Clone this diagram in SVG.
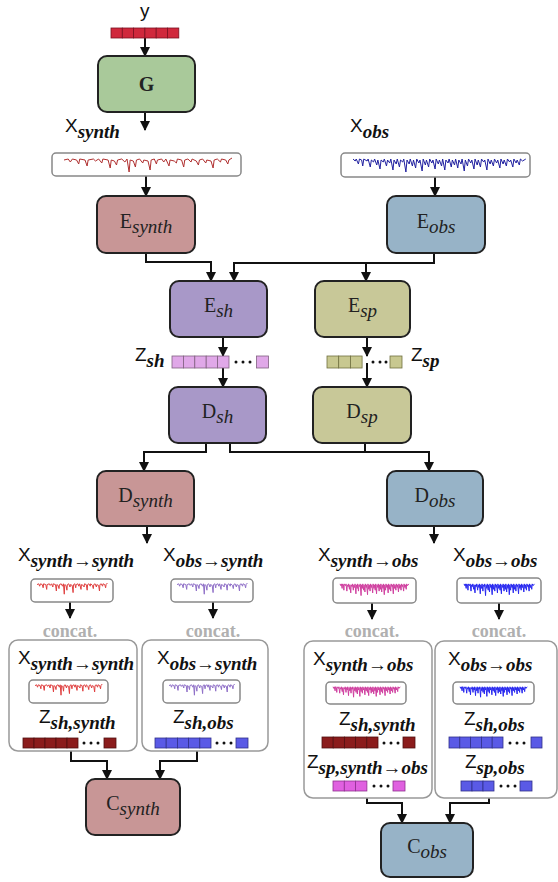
<svg xmlns="http://www.w3.org/2000/svg" xmlns:xlink="http://www.w3.org/1999/xlink" width="558" height="882" viewBox="0 0 558 882">
<style>
.box{stroke:#222;stroke-width:2}
.syn{fill:#c89696}
.obs{fill:#97b3c7}
.sh{fill:#a898c8}
.sp{fill:#c8c898}
.gen{fill:#a9c99a}
.blabel{font-family:"Liberation Serif",serif;font-size:20px;fill:#222}
.bsub{font-style:italic;font-size:19px}
.lab{font-family:"Liberation Sans",sans-serif;font-size:19px;fill:#111}
.lsub{font-family:"Liberation Serif",serif;font-style:italic;font-weight:bold;font-size:19px}
.spec{fill:#fff;stroke:#888;stroke-width:1.5}
.cont{fill:#fff;stroke:#999;stroke-width:1.5}
.concat{font-family:"Liberation Serif",serif;font-weight:bold;font-size:18px;fill:#b0b0b0;text-anchor:middle}
.conn{fill:none;stroke:#111;stroke-width:2}
.cR{fill:#d0283c;stroke:#7a1020;stroke-width:0.8}
.cP{fill:#e0a8e8;stroke:#806080;stroke-width:0.8}
.cO{fill:#c8c890;stroke:#707040;stroke-width:0.8}
.cD{fill:#8b1c1c;stroke:#501010;stroke-width:0.8}
.cB{fill:#5a5ae6;stroke:#30308a;stroke-width:0.8}
.cM{fill:#e060e0;stroke:#903090;stroke-width:0.8}
.dot{fill:#111}
</style>
<defs>
<marker id="ah" markerUnits="userSpaceOnUse" markerWidth="10" markerHeight="10" refX="9" refY="5" orient="auto">
<path d="M0,0 L10,5 L0,10 z" fill="#111"/>
</marker>
<path id="s1" fill="none" stroke-width="1" vector-effect="non-scaling-stroke" d="M0 2 L4 1 L6 4 L8 1 L12 2 L14 6 L15 1 L20 2 L22 8 L23 2 L28 1 L30 3 L33 1 L36 5 L37 1 L42 2 L44 10 L45 2 L48 3 L50 7 L51 2 L55 1 L58 4 L60 1 L62 14 L63 2 L66 3 L68 9 L69 2 L72 1 L75 5 L76 2 L80 3 L82 12 L83 2 L86 1 L88 6 L89 2 L93 1 L95 4 L97 1 L100 8 L101 2 L105 3 L107 5 L108 1 L112 2 L114 9 L115 2 L118 1 L121 4 L122 1 L126 3 L128 7 L129 2 L132 1 L135 5 L136 2 L140 3 L142 10 L143 2 L146 1 L149 4 L150 1 L154 2 L156 6 L157 2 L160 0"/>
<path id="s2" fill="none" stroke-width="1" vector-effect="non-scaling-stroke" d="M0 1 L2 3 L3 1 L5 6 L6 1 L8 2 L9 8 L10 1 L13 3 L14 1 L16 9 L17 2 L19 4 L20 1 L22 7 L23 2 L25 11 L26 2 L28 4 L29 1 L31 8 L32 2 L34 5 L35 1 L37 12 L38 2 L40 6 L41 1 L43 9 L44 2 L46 4 L47 1 L49 14 L50 2 L52 6 L53 1 L55 8 L56 2 L58 10 L59 1 L61 5 L62 2 L64 13 L65 1 L67 7 L68 2 L70 9 L71 1 L73 5 L74 2 L76 11 L77 1 L79 6 L80 2 L82 8 L83 1 L85 12 L86 2 L88 5 L89 1 L91 9 L92 2 L94 7 L95 1 L97 10 L98 2 L100 6 L101 1 L103 13 L104 2 L106 8 L107 1 L109 5 L110 2 L112 11 L113 1 L115 7 L116 2 L118 9 L119 1 L121 4 L122 2 L124 12 L125 1 L127 6 L128 2 L130 8 L131 1 L133 5 L134 2 L136 10 L137 1 L139 6 L140 2 L142 8 L143 1 L145 4 L146 2 L148 9 L149 1 L151 5 L152 2 L154 7 L155 1 L157 3 L160 1"/>
</defs>
<rect width="558" height="882" fill="#fff"/>

<g id="connectors">
<path class="conn" marker-end="url(#ah)" d="M145 38 V56"/>
<path class="conn" marker-end="url(#ah)" d="M145 112 V130"/>
<path class="conn" marker-end="url(#ah)" d="M146 176 V196"/>
<path class="conn" marker-end="url(#ah)" d="M435 177 V196"/>
<path class="conn" marker-end="url(#ah)" d="M146 253 V262 H211 V281"/>
<path class="conn" marker-end="url(#ah)" d="M434 253 V263 H234 V281"/>
<path class="conn" marker-end="url(#ah)" d="M366 263 V281"/>
<path class="conn" marker-end="url(#ah)" d="M223 337 V356"/>
<path class="conn" marker-end="url(#ah)" d="M223 368 V387"/>
<path class="conn" marker-end="url(#ah)" d="M367 337 V356"/>
<path class="conn" marker-end="url(#ah)" d="M367 363 V387"/>
<path class="conn" marker-end="url(#ah)" d="M206 443 V452 H144 V471"/>
<path class="conn" marker-end="url(#ah)" d="M230 443 V452 H429 V471"/>
<path class="conn" d="M365 443 V452"/>
<path class="conn" marker-end="url(#ah)" d="M147 526 V543"/>
<path class="conn" marker-end="url(#ah)" d="M434 526 V543"/>
<path class="conn" marker-end="url(#ah)" d="M70 602 V618"/>
<path class="conn" marker-end="url(#ah)" d="M213 602 V618"/>
<path class="conn" marker-end="url(#ah)" d="M372 603 V619"/>
<path class="conn" marker-end="url(#ah)" d="M499 603 V619"/>
<path class="conn" marker-end="url(#ah)" d="M71 748 V761 H107 V779"/>
<path class="conn" marker-end="url(#ah)" d="M197 748 V761 H160 V779"/>
<path class="conn" marker-end="url(#ah)" d="M367 791 V803 H402 V823"/>
<path class="conn" marker-end="url(#ah)" d="M489 791 V803 H450 V823"/>
</g>

<g id="y-vector">
<text class="lab" x="140" y="17">y</text>
<rect class="cR" x="111" y="28" width="11.3" height="10"/>
<rect class="cR" x="122.3" y="28" width="11.3" height="10"/>
<rect class="cR" x="133.6" y="28" width="11.3" height="10"/>
<rect class="cR" x="144.9" y="28" width="11.3" height="10"/>
<rect class="cR" x="156.2" y="28" width="11.3" height="10"/>
<rect class="cR" x="167.5" y="28" width="11.3" height="10"/>
</g>

<g id="G">
<rect class="box gen" x="98" y="56" width="97" height="56" rx="9"/>
<text class="blabel" x="146.5" y="91" text-anchor="middle" font-weight="bold">G</text>
</g>

<g id="x-synth">
<text class="lab" x="65" y="132">X<tspan class="lsub" dy="6">synth</tspan></text>
<rect class="spec" x="52" y="153" width="189" height="23" rx="4"/>
<use xlink:href="#s1" stroke="#b03030" transform="translate(64,158) scale(1.05,1)"/>
</g>

<g id="x-obs">
<text class="lab" x="350" y="132">X<tspan class="lsub" dy="6">obs</tspan></text>
<rect class="spec" x="341" y="153" width="189" height="24" rx="4"/>
<use xlink:href="#s2" stroke="#2020a0" transform="translate(353,158) scale(1.08,1)"/>
</g>

<g id="E-synth">
<rect class="box syn" x="97" y="196" width="98" height="57" rx="9"/>
<text class="blabel" x="146" y="228" text-anchor="middle">E<tspan class="bsub" dy="5">synth</tspan></text>
</g>
<g id="E-obs">
<rect class="box obs" x="387" y="196" width="98" height="57" rx="9"/>
<text class="blabel" x="436" y="228" text-anchor="middle">E<tspan class="bsub" dy="5">obs</tspan></text>
</g>
<g id="E-sh">
<rect class="box sh" x="170" y="281" width="97" height="56" rx="9"/>
<text class="blabel" x="218.5" y="312" text-anchor="middle">E<tspan class="bsub" dy="5">sh</tspan></text>
</g>
<g id="E-sp">
<rect class="box sp" x="315" y="281" width="95" height="56" rx="9"/>
<text class="blabel" x="362.5" y="312" text-anchor="middle">E<tspan class="bsub" dy="5">sp</tspan></text>
</g>

<g id="z-sh">
<text class="lab" x="135" y="361">Z<tspan class="lsub" dy="6">sh</tspan></text>
<rect class="cP" x="172" y="356" width="11.4" height="12"/>
<rect class="cP" x="183.4" y="356" width="11.4" height="12"/>
<rect class="cP" x="194.8" y="356" width="11.4" height="12"/>
<rect class="cP" x="206.2" y="356" width="11.4" height="12"/>
<rect class="cP" x="217.6" y="356" width="11.4" height="12"/>
<circle class="dot" cx="236" cy="362" r="1.5"/>
<circle class="dot" cx="243" cy="362" r="1.5"/>
<circle class="dot" cx="250" cy="362" r="1.5"/>
<rect class="cP" x="256.5" y="356" width="12" height="12"/>
</g>

<g id="z-sp">
<text class="lab" x="411" y="361">Z<tspan class="lsub" dy="6">sp</tspan></text>
<rect class="cO" x="327" y="356" width="11.7" height="12"/>
<rect class="cO" x="338.7" y="356" width="11.7" height="12"/>
<rect class="cO" x="350.4" y="356" width="11.7" height="12"/>
<circle class="dot" cx="373" cy="362" r="1.5"/>
<circle class="dot" cx="380" cy="362" r="1.5"/>
<circle class="dot" cx="386" cy="362" r="1.5"/>
<rect class="cO" x="390" y="356" width="12" height="12"/>
</g>

<g id="D-sh">
<rect class="box sh" x="169" y="387" width="97" height="56" rx="9"/>
<text class="blabel" x="217.5" y="418" text-anchor="middle">D<tspan class="bsub" dy="5">sh</tspan></text>
</g>
<g id="D-sp">
<rect class="box sp" x="313" y="387" width="98" height="56" rx="9"/>
<text class="blabel" x="362" y="418" text-anchor="middle">D<tspan class="bsub" dy="5">sp</tspan></text>
</g>
<g id="D-synth">
<rect class="box syn" x="97" y="471" width="97" height="55" rx="9"/>
<text class="blabel" x="145.5" y="502" text-anchor="middle">D<tspan class="bsub" dy="5">synth</tspan></text>
</g>
<g id="D-obs">
<rect class="box obs" x="387" y="471" width="96" height="55" rx="9"/>
<text class="blabel" x="435" y="502" text-anchor="middle">D<tspan class="bsub" dy="5">obs</tspan></text>
</g>

<g id="x-synth-synth">
<text class="lab" x="18" y="561">X<tspan class="lsub" dy="6">synth→synth</tspan></text>
<rect class="spec" x="31" y="579" width="82" height="23" rx="4"/>
<use xlink:href="#s1" stroke="#e04040" transform="translate(37,583) scale(0.44,0.8)"/>
<text class="concat" x="70" y="637">concat.</text>
</g>
<g id="x-obs-synth">
<text class="lab" x="163" y="561">X<tspan class="lsub" dy="6">obs→synth</tspan></text>
<rect class="spec" x="171" y="579" width="82" height="23" rx="4"/>
<use xlink:href="#s1" stroke="#9070c8" transform="translate(177,583) scale(0.44,0.8)"/>
<text class="concat" x="213" y="637">concat.</text>
</g>
<g id="x-synth-obs">
<text class="lab" x="318" y="561">X<tspan class="lsub" dy="6">synth→obs</tspan></text>
<rect class="spec" x="333" y="578" width="83" height="25" rx="4"/>
<use xlink:href="#s2" stroke="#d040a0" transform="translate(340,583) scale(0.43,0.9)"/>
<text class="concat" x="372" y="637">concat.</text>
</g>
<g id="x-obs-obs">
<text class="lab" x="453" y="561">X<tspan class="lsub" dy="6">obs→obs</tspan></text>
<rect class="spec" x="457" y="578" width="84" height="25" rx="4"/>
<use xlink:href="#s2" stroke="#2828f0" transform="translate(464,583) scale(0.44,0.9)"/>
<text class="concat" x="499" y="637">concat.</text>
</g>

<g id="concat-synth-synth">
<rect class="cont" x="9" y="640" width="128" height="111" rx="9"/>
<text class="lab" x="18" y="664">X<tspan class="lsub" dy="6">synth→synth</tspan></text>
<rect class="spec" x="29" y="680" width="79" height="23" rx="4"/>
<use xlink:href="#s1" stroke="#e04040" transform="translate(35,684) scale(0.42,0.8)"/>
<text class="lab" x="39" y="723">Z<tspan class="lsub" dy="6">sh,synth</tspan></text>
<rect class="cD" x="23" y="738" width="11" height="10"/>
<rect class="cD" x="34" y="738" width="11" height="10"/>
<rect class="cD" x="45" y="738" width="11" height="10"/>
<rect class="cD" x="56" y="738" width="11" height="10"/>
<rect class="cD" x="67" y="738" width="11" height="10"/>
<circle class="dot" cx="84" cy="743" r="1.5"/>
<circle class="dot" cx="91" cy="743" r="1.5"/>
<circle class="dot" cx="98" cy="743" r="1.5"/>
<rect class="cD" x="104" y="738" width="12" height="10"/>
</g>

<g id="concat-obs-synth">
<rect class="cont" x="142" y="640" width="126" height="111" rx="9"/>
<text class="lab" x="157" y="664">X<tspan class="lsub" dy="6">obs→synth</tspan></text>
<rect class="spec" x="163" y="680" width="77" height="23" rx="4"/>
<use xlink:href="#s1" stroke="#9070c8" transform="translate(169,684) scale(0.41,0.8)"/>
<text class="lab" x="173" y="723">Z<tspan class="lsub" dy="6">sh,obs</tspan></text>
<rect class="cB" x="155" y="738" width="11.2" height="10"/>
<rect class="cB" x="166.2" y="738" width="11.2" height="10"/>
<rect class="cB" x="177.4" y="738" width="11.2" height="10"/>
<rect class="cB" x="188.6" y="738" width="11.2" height="10"/>
<rect class="cB" x="199.8" y="738" width="11.2" height="10"/>
<circle class="dot" cx="217" cy="743" r="1.5"/>
<circle class="dot" cx="224" cy="743" r="1.5"/>
<circle class="dot" cx="231" cy="743" r="1.5"/>
<rect class="cB" x="236" y="738" width="12" height="10"/>
</g>

<g id="concat-synth-obs">
<rect class="cont" x="304" y="641" width="128" height="157" rx="9"/>
<text class="lab" x="313" y="665">X<tspan class="lsub" dy="6">synth→obs</tspan></text>
<rect class="spec" x="326" y="682" width="80" height="22" rx="4"/>
<use xlink:href="#s2" stroke="#d040a0" transform="translate(333,686) scale(0.42,0.8)"/>
<text class="lab" x="339" y="725">Z<tspan class="lsub" dy="6">sh,synth</tspan></text>
<rect class="cD" x="322" y="737" width="11.2" height="11"/>
<rect class="cD" x="333.2" y="737" width="11.2" height="11"/>
<rect class="cD" x="344.4" y="737" width="11.2" height="11"/>
<rect class="cD" x="355.6" y="737" width="11.2" height="11"/>
<rect class="cD" x="366.8" y="737" width="11.2" height="11"/>
<circle class="dot" cx="384" cy="743" r="1.5"/>
<circle class="dot" cx="391" cy="743" r="1.5"/>
<circle class="dot" cx="398" cy="743" r="1.5"/>
<rect class="cD" x="403" y="737" width="12" height="11"/>
<text class="lab" x="307" y="768">Z<tspan class="lsub" dy="6">sp,synth→obs</tspan></text>
<rect class="cM" x="333" y="781" width="11.3" height="10"/>
<rect class="cM" x="344.3" y="781" width="11.3" height="10"/>
<rect class="cM" x="355.6" y="781" width="11.3" height="10"/>
<circle class="dot" cx="374" cy="786" r="1.5"/>
<circle class="dot" cx="381" cy="786" r="1.5"/>
<circle class="dot" cx="388" cy="786" r="1.5"/>
<rect class="cM" x="393" y="781" width="12" height="10"/>
</g>

<g id="concat-obs-obs">
<rect class="cont" x="435" y="641" width="122" height="157" rx="9"/>
<text class="lab" x="448" y="665">X<tspan class="lsub" dy="6">obs→obs</tspan></text>
<rect class="spec" x="453" y="682" width="81" height="22" rx="4"/>
<use xlink:href="#s2" stroke="#2828f0" transform="translate(460,686) scale(0.42,0.8)"/>
<text class="lab" x="464" y="725">Z<tspan class="lsub" dy="6">sh,obs</tspan></text>
<rect class="cB" x="449" y="737" width="10.8" height="11"/>
<rect class="cB" x="459.8" y="737" width="10.8" height="11"/>
<rect class="cB" x="470.6" y="737" width="10.8" height="11"/>
<rect class="cB" x="481.4" y="737" width="10.8" height="11"/>
<rect class="cB" x="492.2" y="737" width="10.8" height="11"/>
<circle class="dot" cx="510" cy="743" r="1.5"/>
<circle class="dot" cx="517" cy="743" r="1.5"/>
<circle class="dot" cx="524" cy="743" r="1.5"/>
<rect class="cB" x="531" y="737" width="11" height="11"/>
<text class="lab" x="465" y="768">Z<tspan class="lsub" dy="6">sp,obs</tspan></text>
<rect class="cB" x="461" y="781" width="11" height="10"/>
<rect class="cB" x="472" y="781" width="11" height="10"/>
<rect class="cB" x="483" y="781" width="11" height="10"/>
<circle class="dot" cx="501" cy="786" r="1.5"/>
<circle class="dot" cx="508" cy="786" r="1.5"/>
<circle class="dot" cx="515" cy="786" r="1.5"/>
<rect class="cB" x="520" y="781" width="12" height="10"/>
</g>

<g id="C-synth">
<rect class="box syn" x="86" y="779" width="94" height="56" rx="9"/>
<text class="blabel" x="133" y="810" text-anchor="middle">C<tspan class="bsub" dy="5">synth</tspan></text>
</g>
<g id="C-obs">
<rect class="box obs" x="381" y="823" width="92" height="54" rx="9"/>
<text class="blabel" x="427" y="853" text-anchor="middle">C<tspan class="bsub" dy="5">obs</tspan></text>
</g>
</svg>
